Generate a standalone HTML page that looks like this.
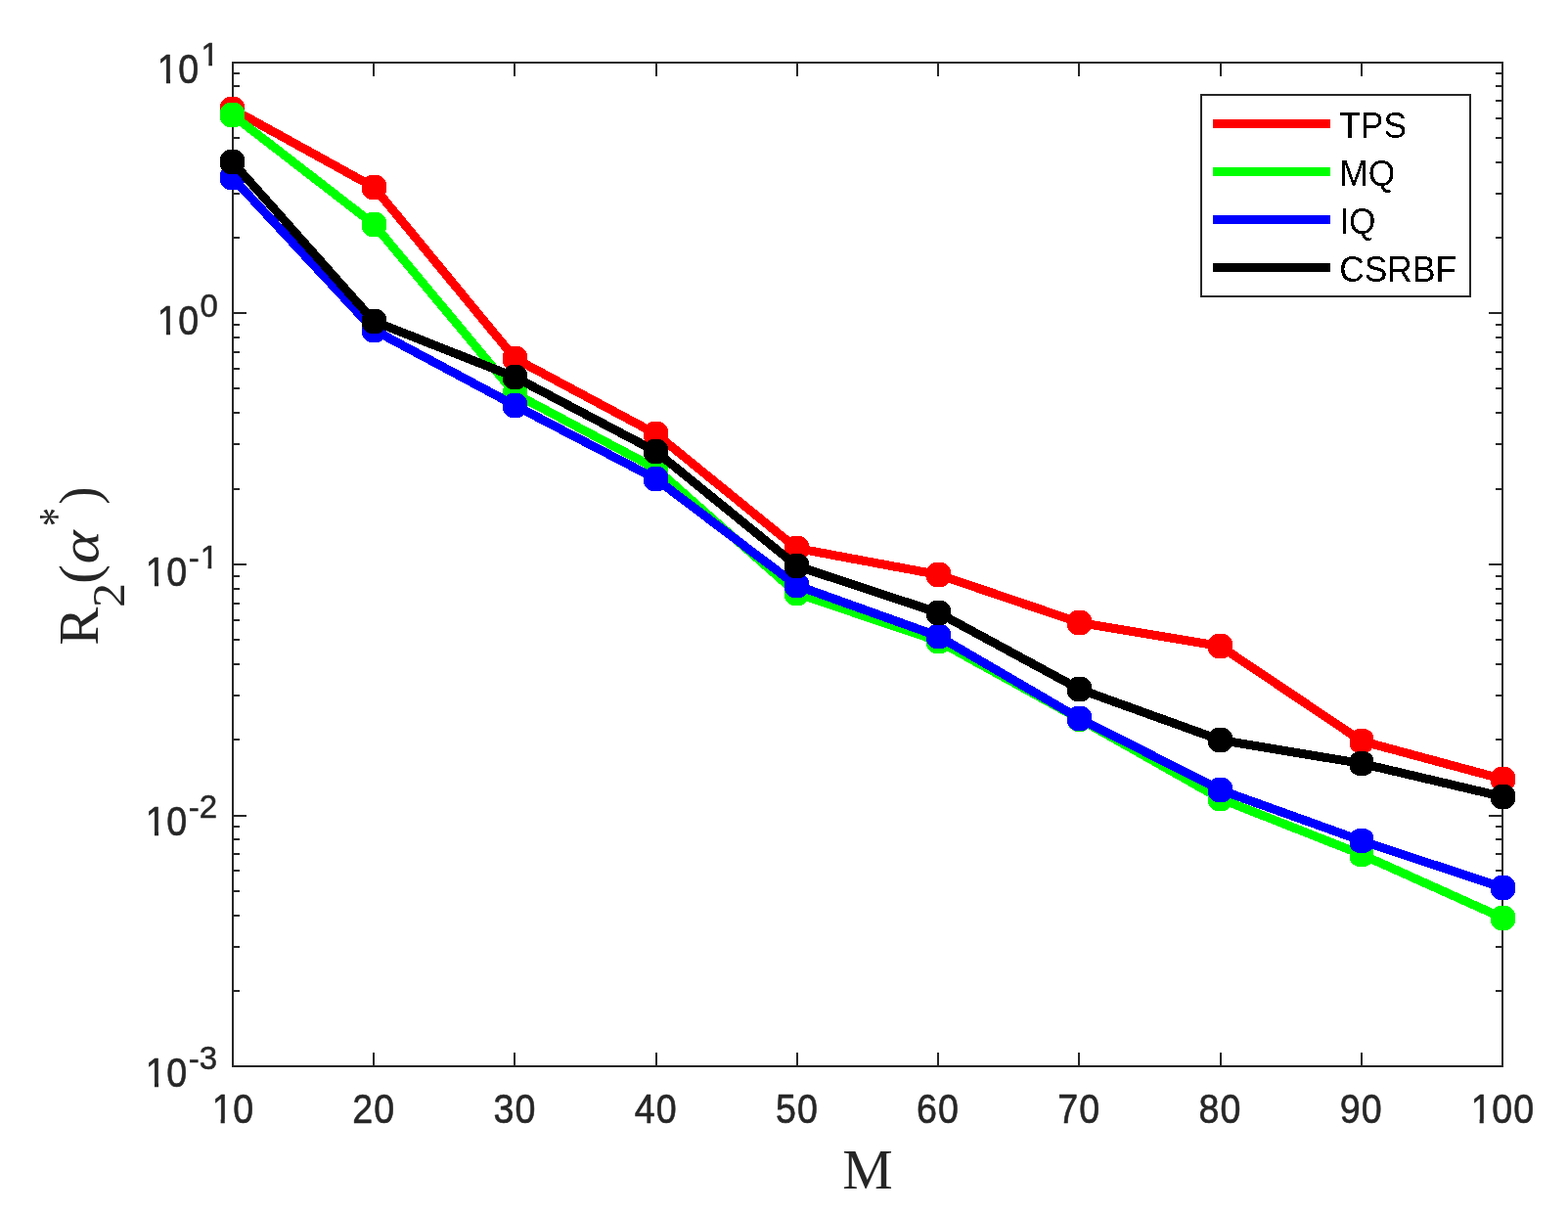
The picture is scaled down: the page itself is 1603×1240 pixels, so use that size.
<!DOCTYPE html>
<html lang="en"><head><meta charset="utf-8">
<style>html,body{margin:0;padding:0;background:#fff;overflow:hidden}svg{display:block}.s{font-family:"Liberation Sans",sans-serif;fill:#262626}.r{font-family:"Liberation Serif",serif;fill:#262626}</style></head><body>
<svg width="1603" height="1240" viewBox="0 0 1603 1240" role="img">
<rect x="0" y="0" width="1603" height="1240" fill="#ffffff"/>
<g shape-rendering="crispEdges" fill="#262626">
<rect x="237" y="63" width="1300" height="2"/>
<rect x="237" y="1089" width="1300" height="2"/>
<rect x="237" y="63" width="2" height="1028"/>
<rect x="1535" y="63" width="2" height="1028"/>
<rect x="381" y="1076" width="2" height="14"/>
<rect x="381" y="64" width="2" height="14"/>
<rect x="525" y="1076" width="2" height="14"/>
<rect x="525" y="64" width="2" height="14"/>
<rect x="670" y="1076" width="2" height="14"/>
<rect x="670" y="64" width="2" height="14"/>
<rect x="814" y="1076" width="2" height="14"/>
<rect x="814" y="64" width="2" height="14"/>
<rect x="958" y="1076" width="2" height="14"/>
<rect x="958" y="64" width="2" height="14"/>
<rect x="1102" y="1076" width="2" height="14"/>
<rect x="1102" y="64" width="2" height="14"/>
<rect x="1247" y="1076" width="2" height="14"/>
<rect x="1247" y="64" width="2" height="14"/>
<rect x="1391" y="1076" width="2" height="14"/>
<rect x="1391" y="64" width="2" height="14"/>
<rect x="238" y="319" width="14" height="2"/>
<rect x="1522" y="319" width="14" height="2"/>
<rect x="238" y="242" width="7" height="2"/>
<rect x="1529" y="242" width="7" height="2"/>
<rect x="238" y="197" width="7" height="2"/>
<rect x="1529" y="197" width="7" height="2"/>
<rect x="238" y="165" width="7" height="2"/>
<rect x="1529" y="165" width="7" height="2"/>
<rect x="238" y="140" width="7" height="2"/>
<rect x="1529" y="140" width="7" height="2"/>
<rect x="238" y="120" width="7" height="2"/>
<rect x="1529" y="120" width="7" height="2"/>
<rect x="238" y="102" width="7" height="2"/>
<rect x="1529" y="102" width="7" height="2"/>
<rect x="238" y="87" width="7" height="2"/>
<rect x="1529" y="87" width="7" height="2"/>
<rect x="238" y="74" width="7" height="2"/>
<rect x="1529" y="74" width="7" height="2"/>
<rect x="238" y="576" width="14" height="2"/>
<rect x="1522" y="576" width="14" height="2"/>
<rect x="238" y="499" width="7" height="2"/>
<rect x="1529" y="499" width="7" height="2"/>
<rect x="238" y="453" width="7" height="2"/>
<rect x="1529" y="453" width="7" height="2"/>
<rect x="238" y="421" width="7" height="2"/>
<rect x="1529" y="421" width="7" height="2"/>
<rect x="238" y="396" width="7" height="2"/>
<rect x="1529" y="396" width="7" height="2"/>
<rect x="238" y="376" width="7" height="2"/>
<rect x="1529" y="376" width="7" height="2"/>
<rect x="238" y="359" width="7" height="2"/>
<rect x="1529" y="359" width="7" height="2"/>
<rect x="238" y="344" width="7" height="2"/>
<rect x="1529" y="344" width="7" height="2"/>
<rect x="238" y="331" width="7" height="2"/>
<rect x="1529" y="331" width="7" height="2"/>
<rect x="238" y="833" width="14" height="2"/>
<rect x="1522" y="833" width="14" height="2"/>
<rect x="238" y="755" width="7" height="2"/>
<rect x="1529" y="755" width="7" height="2"/>
<rect x="238" y="710" width="7" height="2"/>
<rect x="1529" y="710" width="7" height="2"/>
<rect x="238" y="678" width="7" height="2"/>
<rect x="1529" y="678" width="7" height="2"/>
<rect x="238" y="653" width="7" height="2"/>
<rect x="1529" y="653" width="7" height="2"/>
<rect x="238" y="633" width="7" height="2"/>
<rect x="1529" y="633" width="7" height="2"/>
<rect x="238" y="616" width="7" height="2"/>
<rect x="1529" y="616" width="7" height="2"/>
<rect x="238" y="601" width="7" height="2"/>
<rect x="1529" y="601" width="7" height="2"/>
<rect x="238" y="588" width="7" height="2"/>
<rect x="1529" y="588" width="7" height="2"/>
<rect x="238" y="1012" width="7" height="2"/>
<rect x="1529" y="1012" width="7" height="2"/>
<rect x="238" y="967" width="7" height="2"/>
<rect x="1529" y="967" width="7" height="2"/>
<rect x="238" y="935" width="7" height="2"/>
<rect x="1529" y="935" width="7" height="2"/>
<rect x="238" y="910" width="7" height="2"/>
<rect x="1529" y="910" width="7" height="2"/>
<rect x="238" y="889" width="7" height="2"/>
<rect x="1529" y="889" width="7" height="2"/>
<rect x="238" y="872" width="7" height="2"/>
<rect x="1529" y="872" width="7" height="2"/>
<rect x="238" y="857" width="7" height="2"/>
<rect x="1529" y="857" width="7" height="2"/>
<rect x="238" y="844" width="7" height="2"/>
<rect x="1529" y="844" width="7" height="2"/>
</g>
<g shape-rendering="crispEdges" fill="none" stroke-linejoin="round" stroke-linecap="butt">
<polyline points="237.5,111.5 382.5,191.5 526.5,366.5 670.5,443.5 814.5,560.5 959.5,587.5 1103.5,636.5 1247.5,660.5 1392,757.5 1536.5,796.5" stroke="#ff0000" stroke-width="9"/>
<g fill="#ff0000" stroke="none">
<path d="M233.26,99.00h8.48a13.2,13.2 0 0 1 8.26,8.26v8.48a13.2,13.2 0 0 1 -8.26,8.26h-8.48a13.2,13.2 0 0 1 -8.26,-8.26v-8.48a13.2,13.2 0 0 1 8.26,-8.26z"/>
<path d="M378.26,179.00h8.48a13.2,13.2 0 0 1 8.26,8.26v8.48a13.2,13.2 0 0 1 -8.26,8.26h-8.48a13.2,13.2 0 0 1 -8.26,-8.26v-8.48a13.2,13.2 0 0 1 8.26,-8.26z"/>
<path d="M522.26,354.00h8.48a13.2,13.2 0 0 1 8.26,8.26v8.48a13.2,13.2 0 0 1 -8.26,8.26h-8.48a13.2,13.2 0 0 1 -8.26,-8.26v-8.48a13.2,13.2 0 0 1 8.26,-8.26z"/>
<path d="M666.26,431.00h8.48a13.2,13.2 0 0 1 8.26,8.26v8.48a13.2,13.2 0 0 1 -8.26,8.26h-8.48a13.2,13.2 0 0 1 -8.26,-8.26v-8.48a13.2,13.2 0 0 1 8.26,-8.26z"/>
<path d="M810.26,548.00h8.48a13.2,13.2 0 0 1 8.26,8.26v8.48a13.2,13.2 0 0 1 -8.26,8.26h-8.48a13.2,13.2 0 0 1 -8.26,-8.26v-8.48a13.2,13.2 0 0 1 8.26,-8.26z"/>
<path d="M955.26,575.00h8.48a13.2,13.2 0 0 1 8.26,8.26v8.48a13.2,13.2 0 0 1 -8.26,8.26h-8.48a13.2,13.2 0 0 1 -8.26,-8.26v-8.48a13.2,13.2 0 0 1 8.26,-8.26z"/>
<path d="M1099.26,624.00h8.48a13.2,13.2 0 0 1 8.26,8.26v8.48a13.2,13.2 0 0 1 -8.26,8.26h-8.48a13.2,13.2 0 0 1 -8.26,-8.26v-8.48a13.2,13.2 0 0 1 8.26,-8.26z"/>
<path d="M1243.26,648.00h8.48a13.2,13.2 0 0 1 8.26,8.26v8.48a13.2,13.2 0 0 1 -8.26,8.26h-8.48a13.2,13.2 0 0 1 -8.26,-8.26v-8.48a13.2,13.2 0 0 1 8.26,-8.26z"/>
<path d="M1387.76,745.00h8.48a13.2,13.2 0 0 1 7.76,7.00v11.00a13.2,13.2 0 0 1 -7.76,7.00h-8.48a13.2,13.2 0 0 1 -7.76,-7.00v-11.00a13.2,13.2 0 0 1 7.76,-7.00z"/>
<path d="M1532.26,784.00h8.48a13.2,13.2 0 0 1 8.26,8.26v8.48a13.2,13.2 0 0 1 -8.26,8.26h-8.48a13.2,13.2 0 0 1 -8.26,-8.26v-8.48a13.2,13.2 0 0 1 8.26,-8.26z"/>
</g>
<polyline points="237.5,117.5 382.5,229.5 526.5,402.5 670.5,479 814.5,606.5 959.5,655.5 1103.5,735 1247.5,816.5 1392,873.5 1536.5,938.5" stroke="#00ff00" stroke-width="9"/>
<g fill="#00ff00" stroke="none">
<path d="M233.26,105.00h8.48a13.2,13.2 0 0 1 8.26,8.26v8.48a13.2,13.2 0 0 1 -8.26,8.26h-8.48a13.2,13.2 0 0 1 -8.26,-8.26v-8.48a13.2,13.2 0 0 1 8.26,-8.26z"/>
<path d="M378.26,217.00h8.48a13.2,13.2 0 0 1 8.26,8.26v8.48a13.2,13.2 0 0 1 -8.26,8.26h-8.48a13.2,13.2 0 0 1 -8.26,-8.26v-8.48a13.2,13.2 0 0 1 8.26,-8.26z"/>
<path d="M522.26,390.00h8.48a13.2,13.2 0 0 1 8.26,8.26v8.48a13.2,13.2 0 0 1 -8.26,8.26h-8.48a13.2,13.2 0 0 1 -8.26,-8.26v-8.48a13.2,13.2 0 0 1 8.26,-8.26z"/>
<path d="M666.26,466.50h8.48a13.2,13.2 0 0 1 8.26,8.26v8.48a13.2,13.2 0 0 1 -8.26,8.26h-8.48a13.2,13.2 0 0 1 -8.26,-8.26v-8.48a13.2,13.2 0 0 1 8.26,-8.26z"/>
<path d="M810.26,594.00h8.48a13.2,13.2 0 0 1 8.26,8.26v8.48a13.2,13.2 0 0 1 -8.26,8.26h-8.48a13.2,13.2 0 0 1 -8.26,-8.26v-8.48a13.2,13.2 0 0 1 8.26,-8.26z"/>
<path d="M955.26,643.00h8.48a13.2,13.2 0 0 1 8.26,8.26v8.48a13.2,13.2 0 0 1 -8.26,8.26h-8.48a13.2,13.2 0 0 1 -8.26,-8.26v-8.48a13.2,13.2 0 0 1 8.26,-8.26z"/>
<path d="M1099.26,722.50h8.48a13.2,13.2 0 0 1 8.26,8.26v8.48a13.2,13.2 0 0 1 -8.26,8.26h-8.48a13.2,13.2 0 0 1 -8.26,-8.26v-8.48a13.2,13.2 0 0 1 8.26,-8.26z"/>
<path d="M1243.26,804.00h8.48a13.2,13.2 0 0 1 8.26,8.26v8.48a13.2,13.2 0 0 1 -8.26,8.26h-8.48a13.2,13.2 0 0 1 -8.26,-8.26v-8.48a13.2,13.2 0 0 1 8.26,-8.26z"/>
<path d="M1387.76,861.00h8.48a13.2,13.2 0 0 1 7.76,7.00v11.00a13.2,13.2 0 0 1 -7.76,7.00h-8.48a13.2,13.2 0 0 1 -7.76,-7.00v-11.00a13.2,13.2 0 0 1 7.76,-7.00z"/>
<path d="M1532.26,926.00h8.48a13.2,13.2 0 0 1 8.26,8.26v8.48a13.2,13.2 0 0 1 -8.26,8.26h-8.48a13.2,13.2 0 0 1 -8.26,-8.26v-8.48a13.2,13.2 0 0 1 8.26,-8.26z"/>
</g>
<polyline points="237.5,181.5 382.5,337.5 526.5,414.5 670.5,489.5 814.5,598.5 959.5,650.5 1103.5,734.5 1247.5,807.5 1392,859.5 1536.5,907.5" stroke="#0000ff" stroke-width="9"/>
<g fill="#0000ff" stroke="none">
<path d="M233.26,169.00h8.48a13.2,13.2 0 0 1 8.26,8.26v8.48a13.2,13.2 0 0 1 -8.26,8.26h-8.48a13.2,13.2 0 0 1 -8.26,-8.26v-8.48a13.2,13.2 0 0 1 8.26,-8.26z"/>
<path d="M378.26,325.00h8.48a13.2,13.2 0 0 1 8.26,8.26v8.48a13.2,13.2 0 0 1 -8.26,8.26h-8.48a13.2,13.2 0 0 1 -8.26,-8.26v-8.48a13.2,13.2 0 0 1 8.26,-8.26z"/>
<path d="M522.26,402.00h8.48a13.2,13.2 0 0 1 8.26,8.26v8.48a13.2,13.2 0 0 1 -8.26,8.26h-8.48a13.2,13.2 0 0 1 -8.26,-8.26v-8.48a13.2,13.2 0 0 1 8.26,-8.26z"/>
<path d="M666.26,477.00h8.48a13.2,13.2 0 0 1 8.26,8.26v8.48a13.2,13.2 0 0 1 -8.26,8.26h-8.48a13.2,13.2 0 0 1 -8.26,-8.26v-8.48a13.2,13.2 0 0 1 8.26,-8.26z"/>
<path d="M810.26,586.00h8.48a13.2,13.2 0 0 1 8.26,8.26v8.48a13.2,13.2 0 0 1 -8.26,8.26h-8.48a13.2,13.2 0 0 1 -8.26,-8.26v-8.48a13.2,13.2 0 0 1 8.26,-8.26z"/>
<path d="M955.26,638.00h8.48a13.2,13.2 0 0 1 8.26,8.26v8.48a13.2,13.2 0 0 1 -8.26,8.26h-8.48a13.2,13.2 0 0 1 -8.26,-8.26v-8.48a13.2,13.2 0 0 1 8.26,-8.26z"/>
<path d="M1099.26,722.00h8.48a13.2,13.2 0 0 1 8.26,8.26v8.48a13.2,13.2 0 0 1 -8.26,8.26h-8.48a13.2,13.2 0 0 1 -8.26,-8.26v-8.48a13.2,13.2 0 0 1 8.26,-8.26z"/>
<path d="M1243.26,795.00h8.48a13.2,13.2 0 0 1 8.26,8.26v8.48a13.2,13.2 0 0 1 -8.26,8.26h-8.48a13.2,13.2 0 0 1 -8.26,-8.26v-8.48a13.2,13.2 0 0 1 8.26,-8.26z"/>
<path d="M1387.76,847.00h8.48a13.2,13.2 0 0 1 7.76,7.00v11.00a13.2,13.2 0 0 1 -7.76,7.00h-8.48a13.2,13.2 0 0 1 -7.76,-7.00v-11.00a13.2,13.2 0 0 1 7.76,-7.00z"/>
<path d="M1532.26,895.00h8.48a13.2,13.2 0 0 1 8.26,8.26v8.48a13.2,13.2 0 0 1 -8.26,8.26h-8.48a13.2,13.2 0 0 1 -8.26,-8.26v-8.48a13.2,13.2 0 0 1 8.26,-8.26z"/>
</g>
<polyline points="237.5,165.5 382.5,328.5 526.5,385.5 670.5,461.5 814.5,578.5 959.5,626.5 1103.5,704.5 1247.5,756.5 1392,780.5 1536.5,814.5" stroke="#000000" stroke-width="9"/>
<g fill="#000000" stroke="none">
<path d="M233.26,153.00h8.48a13.2,13.2 0 0 1 8.26,8.26v8.48a13.2,13.2 0 0 1 -8.26,8.26h-8.48a13.2,13.2 0 0 1 -8.26,-8.26v-8.48a13.2,13.2 0 0 1 8.26,-8.26z"/>
<path d="M378.26,316.00h8.48a13.2,13.2 0 0 1 8.26,8.26v8.48a13.2,13.2 0 0 1 -8.26,8.26h-8.48a13.2,13.2 0 0 1 -8.26,-8.26v-8.48a13.2,13.2 0 0 1 8.26,-8.26z"/>
<path d="M522.26,373.00h8.48a13.2,13.2 0 0 1 8.26,8.26v8.48a13.2,13.2 0 0 1 -8.26,8.26h-8.48a13.2,13.2 0 0 1 -8.26,-8.26v-8.48a13.2,13.2 0 0 1 8.26,-8.26z"/>
<path d="M666.26,449.00h8.48a13.2,13.2 0 0 1 8.26,8.26v8.48a13.2,13.2 0 0 1 -8.26,8.26h-8.48a13.2,13.2 0 0 1 -8.26,-8.26v-8.48a13.2,13.2 0 0 1 8.26,-8.26z"/>
<path d="M810.26,566.00h8.48a13.2,13.2 0 0 1 8.26,8.26v8.48a13.2,13.2 0 0 1 -8.26,8.26h-8.48a13.2,13.2 0 0 1 -8.26,-8.26v-8.48a13.2,13.2 0 0 1 8.26,-8.26z"/>
<path d="M955.26,614.00h8.48a13.2,13.2 0 0 1 8.26,8.26v8.48a13.2,13.2 0 0 1 -8.26,8.26h-8.48a13.2,13.2 0 0 1 -8.26,-8.26v-8.48a13.2,13.2 0 0 1 8.26,-8.26z"/>
<path d="M1099.26,692.00h8.48a13.2,13.2 0 0 1 8.26,8.26v8.48a13.2,13.2 0 0 1 -8.26,8.26h-8.48a13.2,13.2 0 0 1 -8.26,-8.26v-8.48a13.2,13.2 0 0 1 8.26,-8.26z"/>
<path d="M1243.26,744.00h8.48a13.2,13.2 0 0 1 8.26,8.26v8.48a13.2,13.2 0 0 1 -8.26,8.26h-8.48a13.2,13.2 0 0 1 -8.26,-8.26v-8.48a13.2,13.2 0 0 1 8.26,-8.26z"/>
<path d="M1387.76,768.00h8.48a13.2,13.2 0 0 1 7.76,7.00v11.00a13.2,13.2 0 0 1 -7.76,7.00h-8.48a13.2,13.2 0 0 1 -7.76,-7.00v-11.00a13.2,13.2 0 0 1 7.76,-7.00z"/>
<path d="M1532.26,802.00h8.48a13.2,13.2 0 0 1 8.26,8.26v8.48a13.2,13.2 0 0 1 -8.26,8.26h-8.48a13.2,13.2 0 0 1 -8.26,-8.26v-8.48a13.2,13.2 0 0 1 8.26,-8.26z"/>
</g>
</g>
<g shape-rendering="crispEdges">
<rect x="1228" y="97" width="275" height="206" fill="#ffffff" stroke="#262626" stroke-width="2"/>
<rect x="1240" y="122" width="120" height="9" fill="#ff0000"/>
<rect x="1240" y="171" width="120" height="9" fill="#00ff00"/>
<rect x="1240" y="220" width="120" height="9" fill="#0000ff"/>
<rect x="1240" y="269" width="120" height="9" fill="#000000"/>
</g>
<defs><filter id="hard" x="-5%" y="-20%" width="110%" height="140%" color-interpolation-filters="sRGB"><feComponentTransfer><feFuncA type="discrete" tableValues="0 1"/></feComponentTransfer></filter><clipPath id="c1" clipPathUnits="userSpaceOnUse"><path clip-rule="evenodd" d="M-400,-400H400V400H-400Z M1.80,-3.89H10.28V2.30H1.80Z M14.62,-3.89H22.50V2.30H14.62Z"/></clipPath><clipPath id="c2" clipPathUnits="userSpaceOnUse"><path clip-rule="evenodd" d="M-400,-400H400V400H-400Z M1.44,-3.24H8.20V2.25H1.44Z M11.72,-3.24H18.00V2.25H11.72Z"/></clipPath><clipPath id="c3" clipPathUnits="userSpaceOnUse"><path clip-rule="evenodd" d="M-400,-400H400V400H-400Z M12.56,-3.24H19.32V2.25H12.56Z M22.85,-3.24H29.12V2.25H22.85Z"/></clipPath><clipPath id="c4" clipPathUnits="userSpaceOnUse"><path clip-rule="evenodd" d="M-400,-400H400V400H-400Z M-21.62,-3.89H-13.13V2.30H-21.62Z M-8.80,-3.89H-0.92V2.30H-8.80Z"/></clipPath><clipPath id="c5" clipPathUnits="userSpaceOnUse"><path clip-rule="evenodd" d="M-400,-400H400V400H-400Z M-33.33,-3.89H-24.84V2.30H-33.33Z M-20.51,-3.89H-12.62V2.30H-20.51Z"/></clipPath></defs>
<g>
<text class="s" transform="translate(1369.2 141) scale(1 1.065)" font-size="35.4" text-anchor="start" filter="url(#hard)" style="fill:#000000">TPS</text>
<text class="s" transform="translate(1369.2 190) scale(1 1.065)" font-size="35.4" text-anchor="start" filter="url(#hard)" style="fill:#000000">MQ</text>
<text class="s" transform="translate(1369.2 239) scale(1 1.065)" font-size="35.4" text-anchor="start" filter="url(#hard)" style="fill:#000000">IQ</text>
<text class="s" transform="translate(1369.2 288) scale(1 1.065)" font-size="35.4" text-anchor="start" filter="url(#hard)" style="fill:#000000">CSRBF</text>
</g>
<g><text class="s" transform="translate(160.3 85) scale(0.94 1.05)" font-size="40" text-anchor="start" letter-spacing="1.17" stroke="#262626" stroke-width="0.6" stroke-linejoin="round" clip-path="url(#c1)"><tspan dx="0.62">1</tspan><tspan dx="-0.62">0</tspan></text><text class="s" transform="translate(204.9 67) scale(1.03 1.03)" font-size="32" text-anchor="start" stroke="#262626" stroke-width="0.5" stroke-linejoin="round" clip-path="url(#c2)"><tspan dx="0.50">1</tspan></text></g>
<g><text class="s" transform="translate(160.3 342) scale(0.94 1.05)" font-size="40" text-anchor="start" letter-spacing="1.17" stroke="#262626" stroke-width="0.6" stroke-linejoin="round" clip-path="url(#c1)"><tspan dx="0.62">1</tspan><tspan dx="-0.62">0</tspan></text><text class="s" transform="translate(204.5 324) scale(1.03 1.03)" font-size="32" text-anchor="start" stroke="#262626" stroke-width="0.5" stroke-linejoin="round">0</text></g>
<g><text class="s" transform="translate(148.3 599) scale(0.94 1.05)" font-size="40" text-anchor="start" letter-spacing="1.17" stroke="#262626" stroke-width="0.6" stroke-linejoin="round" clip-path="url(#c1)"><tspan dx="0.62">1</tspan><tspan dx="-0.62">0</tspan></text><text class="s" transform="translate(192.7 581) scale(1.03 1.03)" font-size="32" text-anchor="start" stroke="#262626" stroke-width="0.5" stroke-linejoin="round" clip-path="url(#c3)"><tspan dy="0.80">-</tspan><tspan dx="0.97" dy="-0.80">1</tspan></text></g>
<g><text class="s" transform="translate(148.3 854) scale(0.94 1.05)" font-size="40" text-anchor="start" letter-spacing="1.17" stroke="#262626" stroke-width="0.6" stroke-linejoin="round" clip-path="url(#c1)"><tspan dx="0.62">1</tspan><tspan dx="-0.62">0</tspan></text><text class="s" transform="translate(192.7 836) scale(1.03 1.03)" font-size="32" text-anchor="start" stroke="#262626" stroke-width="0.5" stroke-linejoin="round"><tspan dy="0.80">-</tspan><tspan dy="-0.80">2</tspan></text></g>
<g><text class="s" transform="translate(148.3 1111) scale(0.94 1.05)" font-size="40" text-anchor="start" letter-spacing="1.17" stroke="#262626" stroke-width="0.6" stroke-linejoin="round" clip-path="url(#c1)"><tspan dx="0.62">1</tspan><tspan dx="-0.62">0</tspan></text><text class="s" transform="translate(192.7 1093) scale(1.03 1.03)" font-size="32" text-anchor="start" stroke="#262626" stroke-width="0.5" stroke-linejoin="round"><tspan dy="0.80">-</tspan><tspan dy="-0.80">3</tspan></text></g>
<g transform="translate(100 658) rotate(-90)"><text class="r" transform="translate(-1.68 0) scale(1.034 1)" font-size="56.5" text-anchor="start">R</text><text class="r" transform="translate(37 27) scale(1.09 1)" font-size="46" text-anchor="start">2</text><text class="r" transform="translate(61.3 0) scale(1.05 1)" font-size="56.5" text-anchor="start">(</text><text class="r" transform="translate(81.5 0) scale(1.15 0.96)" font-size="56.5" text-anchor="start" font-style="italic">α</text><text class="r" transform="translate(120 -26.2) scale(0.83 1.12)" font-size="46" text-anchor="start">*</text><text class="r" transform="translate(142.34 0) scale(0.97 1)" font-size="56.5" text-anchor="start">)</text></g>
<g>
<text class="s" transform="translate(238 1148) scale(0.94 1.05)" font-size="40" text-anchor="middle" letter-spacing="1.17" stroke="#262626" stroke-width="0.6" stroke-linejoin="round" clip-path="url(#c4)"><tspan dx="0.62">1</tspan><tspan dx="-0.62">0</tspan></text>
<text class="s" transform="translate(382.22 1148) scale(0.94 1.05)" font-size="40" text-anchor="middle" letter-spacing="1.17" stroke="#262626" stroke-width="0.6" stroke-linejoin="round">20</text>
<text class="s" transform="translate(526.44 1148) scale(0.94 1.05)" font-size="40" text-anchor="middle" letter-spacing="1.17" stroke="#262626" stroke-width="0.6" stroke-linejoin="round">30</text>
<text class="s" transform="translate(670.67 1148) scale(0.94 1.05)" font-size="40" text-anchor="middle" letter-spacing="1.17" stroke="#262626" stroke-width="0.6" stroke-linejoin="round">40</text>
<text class="s" transform="translate(814.89 1148) scale(0.94 1.05)" font-size="40" text-anchor="middle" letter-spacing="1.17" stroke="#262626" stroke-width="0.6" stroke-linejoin="round">50</text>
<text class="s" transform="translate(959.11 1148) scale(0.94 1.05)" font-size="40" text-anchor="middle" letter-spacing="1.17" stroke="#262626" stroke-width="0.6" stroke-linejoin="round">60</text>
<text class="s" transform="translate(1103.33 1148) scale(0.94 1.05)" font-size="40" text-anchor="middle" letter-spacing="1.17" stroke="#262626" stroke-width="0.6" stroke-linejoin="round">70</text>
<text class="s" transform="translate(1247.56 1148) scale(0.94 1.05)" font-size="40" text-anchor="middle" letter-spacing="1.17" stroke="#262626" stroke-width="0.6" stroke-linejoin="round">80</text>
<text class="s" transform="translate(1391.78 1148) scale(0.94 1.05)" font-size="40" text-anchor="middle" letter-spacing="1.17" stroke="#262626" stroke-width="0.6" stroke-linejoin="round">90</text>
<text class="s" transform="translate(1536 1148) scale(0.94 1.05)" font-size="40" text-anchor="middle" letter-spacing="1.17" stroke="#262626" stroke-width="0.6" stroke-linejoin="round" clip-path="url(#c5)"><tspan dx="0.62">1</tspan><tspan dx="-0.62">0</tspan>0</text>
</g>
<text class="r" transform="translate(887 1215) scale(1.025 1)" font-size="56.5" text-anchor="middle">M</text>
</svg></body></html>
